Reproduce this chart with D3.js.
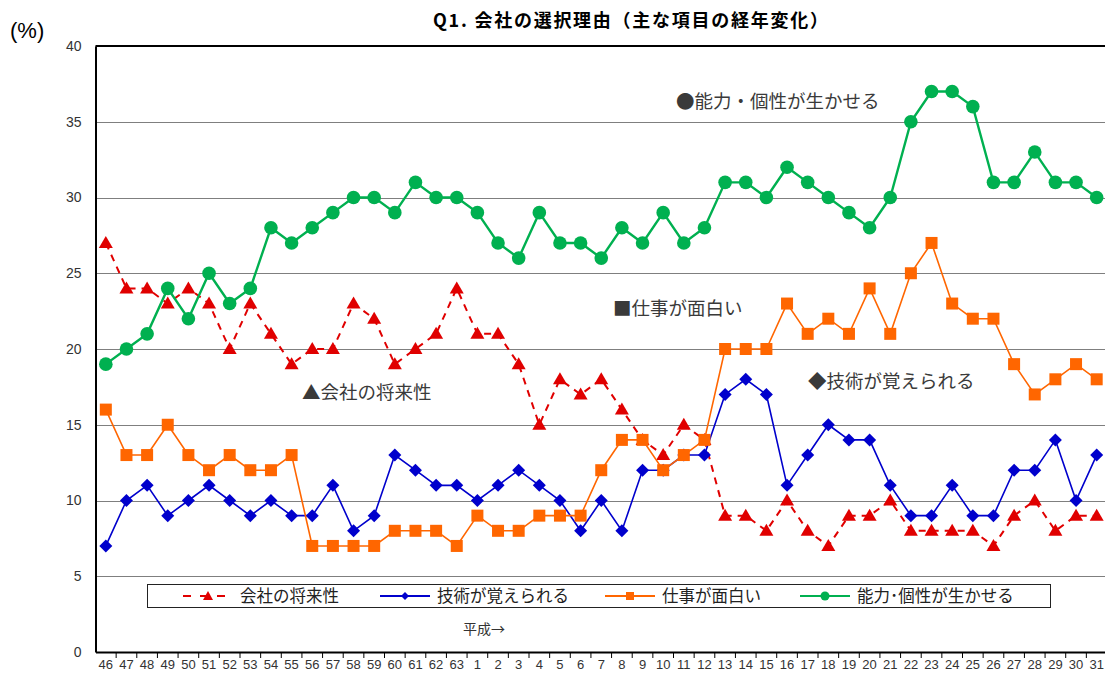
<!DOCTYPE html>
<html>
<head>
<meta charset="utf-8">
<script src="https://cdn.jsdelivr.net/npm/d3@7"></script>
<style>
  body { margin: 0; background: #fff; }
  svg { display: block; }
  text { font-family: "Liberation Sans", Arial, sans-serif; }
  .jp { font-family: "Noto Sans CJK JP", sans-serif; }
</style>
</head>
<body>
<svg id="chart" width="1105" height="675"></svg>
<script>
// years: Showa 46-63, then Heisei 1-31
const years = ["46","47","48","49","50","51","52","53","54","55","56","57","58","59","60","61","62","63",
  "1","2","3","4","5","6","7","8","9","10","11","12","13","14","15","16","17","18","19","20","21","22","23","24","25","26","27","28","29","30","31"]

const future = [27,24,24,23,24,23,20,23,21,19,20,20,23,22,19,20,21,24,
  21,21,19,15,18,17,18,16,14,13,15,14,9,9,8,10,8,7,9,9,10,8,8,8,8,7,9,10,8,9,9]
const skills = [7,10,11,9,10,11,10,9,10,9,9,11,8,9,13,12,11,11,
  10,11,12,11,10,8,10,8,12,12,13,13,17,18,17,11,13,15,14,14,11,9,9,11,9,9,12,12,14,10,13]
const interesting = [16,13,13,15,13,12,13,12,12,13,7,7,7,7,8,8,8,7,
  9,8,8,9,9,9,12,14,14,12,13,14,20,20,20,23,21,22,21,24,21,25,27,23,22,22,19,17,18,19,18]
const ability = [19,20,21,24,22,25,23,24,28,27,28,29,30,30,29,31,30,30,
  29,27,26,29,27,27,26,28,27,29,27,28,31,31,30,32,31,30,29,28,30,35,37,37,36,31,31,33,31,31,30]

const seriesNames = ["会社の将来性", "技術が覚えられる", "仕事が面白い", "能力･個性が生かせる"]
const yTicks = [0,5,10,15,20,25,30,35,40]

const series = [
  {name: seriesNames[0], values: future, color: "#e00000", marker: "triangle", dash: "7,6", width: 2},
  {name: seriesNames[1], values: skills, color: "#0000cc", marker: "diamond", dash: null, width: 1.6},
  {name: seriesNames[2], values: interesting, color: "#ff6600", marker: "square", dash: null, width: 1.6},
  {name: seriesNames[3], values: ability, color: "#00b050", marker: "circle", dash: null, width: 2.4}
]

const svg = d3.select("#chart")
const pL = 95.5, pR = 1107, pT = 46, pB = 652

const x = d3.scaleBand().domain(years).range([pL, pR])
const cx = d => x(d) + x.bandwidth() / 2
const y = d3.scaleLinear().domain([0, 40]).range([pB, pT])

// title
svg.append("text").attr("class", "jp")
    .attr("x", 433).attr("y", 27)
    .attr("font-size", 18).attr("font-weight", "bold")
    .attr("textLength", 395).attr("lengthAdjust", "spacing")
    .text("Q1. 会社の選択理由（主な項目の経年変化）")

svg.append("text")
    .attr("x", 10).attr("y", 38)
    .attr("font-family", "Liberation Serif, serif")
    .attr("font-size", 22)
    .text("(%)")

// gridlines
svg.append("g").selectAll("line")
    .data(yTicks.filter(t => t > 0 && t < 40))
  .enter().append("line")
    .attr("x1", pL).attr("x2", pR)
    .attr("y1", d => Math.round(y(d)) + 0.5).attr("y2", d => Math.round(y(d)) + 0.5)
    .attr("stroke", "#7f7f7f").attr("stroke-width", 1.2)

// frame line on top
svg.append("line").attr("x1", pL).attr("x2", pR).attr("y1", pT).attr("y2", pT)
    .attr("stroke", "#000").attr("stroke-width", 2)

// y axis
const yAxis = svg.append("g")
    .attr("transform", `translate(${pL},0)`)
    .call(d3.axisLeft(y).tickValues(yTicks).tickSize(0).tickPadding(14))
yAxis.select(".domain").attr("stroke", "#000").attr("stroke-width", 2)
yAxis.selectAll("text").attr("font-size", 14).attr("fill", "#333")
    .attr("font-family", "Liberation Sans Narrow, Liberation Sans, Arial, sans-serif")

// x axis
const xAxis = svg.append("g")
    .attr("transform", `translate(0,${pB})`)
    .call(d3.axisBottom(x).tickSize(0).tickPadding(8))
xAxis.select(".domain").attr("stroke", "#000").attr("stroke-width", 2)
xAxis.selectAll("text").attr("font-size", 13).attr("fill", "#333")
    .attr("font-family", "Liberation Sans Narrow, Liberation Sans, Arial, sans-serif")
svg.append("g").selectAll("line")
    .data(years.slice(1))
  .enter().append("line")
    .attr("x1", d => x(d)).attr("x2", d => x(d))
    .attr("y1", pB).attr("y2", pB + 6)
    .attr("stroke", "#000").attr("stroke-width", 1)

// markers
function drawMarker(g, type, color, px, py) {
  if (type === "triangle") {
    g.append("path").attr("d", `M${px},${py - 7}L${px + 7},${py + 5}L${px - 7},${py + 5}Z`).attr("fill", color)
  } else if (type === "diamond") {
    g.append("path").attr("d", `M${px},${py - 6.5}L${px + 6.5},${py}L${px},${py + 6.5}L${px - 6.5},${py}Z`).attr("fill", color)
  } else if (type === "square") {
    g.append("rect").attr("x", px - 6).attr("y", py - 6).attr("width", 12).attr("height", 12).attr("fill", color)
  } else {
    g.append("circle").attr("cx", px).attr("cy", py).attr("r", 6.8).attr("fill", color)
  }
}

const line = d3.line().x((d, i) => cx(years[i])).y(d => y(d))

series.forEach(s => {
  const g = svg.append("g")
  g.append("path")
      .attr("d", line(s.values))
      .attr("fill", "none")
      .attr("stroke", s.color)
      .attr("stroke-width", s.width)
      .attr("stroke-dasharray", s.dash)
  s.values.forEach((v, i) => drawMarker(g, s.marker, s.color, cx(years[i]), y(v)))
})

// in-plot labels
const notes = [
  {text: "●能力・個性が生かせる", x: 676, y: 108},
  {text: "■仕事が面白い", x: 613, y: 315},
  {text: "◆技術が覚えられる", x: 808, y: 388},
  {text: "▲会社の将来性", x: 302, y: 399}
]
svg.append("g").selectAll("text")
    .data(notes)
  .enter().append("text").attr("class", "jp")
    .attr("x", d => d.x).attr("y", d => d.y)
    .attr("font-size", 18.5).attr("fill", "#3a3a3a")
    .text(d => d.text)

// legend
const lg = svg.append("g")
lg.append("rect").attr("x", 147.5).attr("y", 584.5).attr("width", 903).attr("height", 23)
    .attr("fill", "#fff").attr("stroke", "#222").attr("stroke-width", 1)
const legendX = [183, 380, 605, 800]
series.forEach((s, i) => {
  const lx = legendX[i], ly = 596
  lg.append("line").attr("x1", lx).attr("x2", lx + 50).attr("y1", ly).attr("y2", ly)
      .attr("stroke", s.color).attr("stroke-width", 2)
      .attr("stroke-dasharray", s.dash ? "8,9" : null)
  const m = lg.append("g")
  if (s.marker === "triangle") m.append("path").attr("d", `M${lx + 25},${ly - 5}L${lx + 30},${ly + 4}L${lx + 20},${ly + 4}Z`).attr("fill", s.color)
  else if (s.marker === "diamond") m.append("path").attr("d", `M${lx + 25},${ly - 4}L${lx + 29},${ly}L${lx + 25},${ly + 4}L${lx + 21},${ly}Z`).attr("fill", s.color)
  else if (s.marker === "square") m.append("rect").attr("x", lx + 21).attr("y", ly - 4).attr("width", 8).attr("height", 8).attr("fill", s.color)
  else m.append("circle").attr("cx", lx + 25).attr("cy", ly).attr("r", 4.5).attr("fill", s.color)
  lg.append("text").attr("class", "jp")
      .attr("x", lx + 57).attr("y", ly + 6)
      .attr("font-size", 16.5).attr("fill", "#222")
      .text(s.name)
})

svg.append("text").attr("class", "jp")
    .attr("x", 463).attr("y", 634)
    .attr("font-size", 14).attr("fill", "#333")
    .text("平成→")
</script>
</body>
</html>
